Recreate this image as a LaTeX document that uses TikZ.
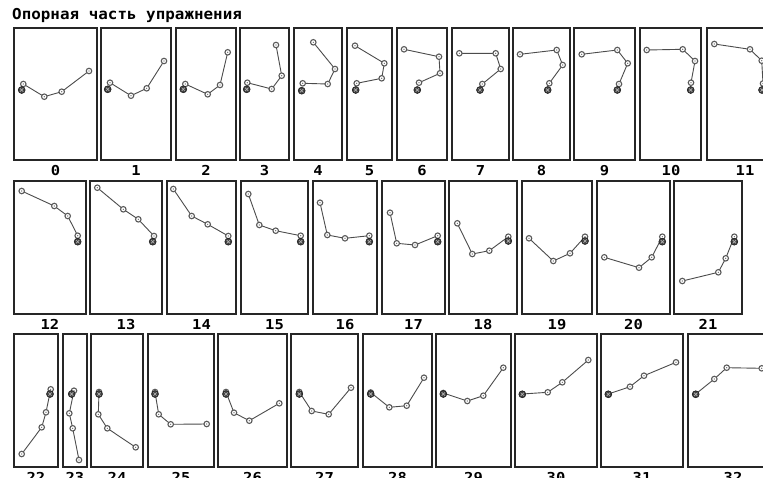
\documentclass[tikz,border=0pt]{standalone}
\usepackage{fontspec}
\newfontfamily\pixfont{DejaVu Sans Mono}
\newcommand{\stickfig}[6]{%
  \coordinate (#1d) at (#2);
  \coordinate (#1a) at (#3);
  \coordinate (#1b) at (#4);
  \coordinate (#1c) at (#5);
  \coordinate (#1e) at (#6);
  \draw[limb] (#1a) -- (#1b) -- (#1c) -- (#1e);
  \node[joint] (#1ja) at (#1a) {};
  \node[joint] (#1jb) at (#1b) {};
  \node[joint] (#1jc) at (#1c) {};
  \node[joint] (#1je) at (#1e) {};
  \node[basept] (#1base) at (#1d) {};
}
\newcommand{\panel}[6]{%
  \draw[frm] (#2,#4) rectangle (#3,#5);
  \node[lbl] (lab#1) at (#6,#5+10.5) {#1};
}
\begin{document}
\begin{tikzpicture}[x=1pt,y=-1pt,
  frm/.style={draw=black!85, line width=1.4pt},
  limb/.style={draw=black!70, line width=0.9pt},
  joint/.style={circle, draw=black!65, fill=white, line width=1.1pt, inner sep=0pt, minimum size=5.5pt,
    path picture={\fill[black!70] (path picture bounding box.center) circle (0.6pt);}},
  basept/.style={circle, fill=black!75, draw=black!90, line width=0.5pt, inner sep=0pt, minimum size=7pt,
    path picture={\draw[white!70!black, line width=0.7pt]
      ([shift={(-1.6pt,-1.6pt)}]path picture bounding box.center) -- ([shift={(1.6pt,1.6pt)}]path picture bounding box.center)
      ([shift={(-1.6pt,1.6pt)}]path picture bounding box.center) -- ([shift={(1.6pt,-1.6pt)}]path picture bounding box.center);}},
  lbl/.style={font=\pixfont\bfseries\fontsize{13.7}{14}\selectfont, xscale=1.13, inner sep=0pt},
  ttl/.style={font=\pixfont\bfseries\fontsize{15}{16}\selectfont, xscale=1.06, inner sep=0pt, anchor=base west}
]
\clip (0,0) rectangle (763,477);
\fill[white] (0,0) rectangle (763,477);

\node[ttl] (title) at (12,19) {Опорная часть упражнения};

% row 1 frames
\panel{0}{14}{97}{28}{160}{55.5}
\panel{1}{101}{171}{28}{160}{136}
\panel{2}{176}{236}{28}{160}{206}
\panel{3}{240}{289}{28}{160}{264.5}
\panel{4}{294}{342}{28}{160}{318}
\panel{5}{347}{392}{28}{160}{369.5}
\panel{6}{397}{447}{28}{160}{422}
\panel{7}{452}{509}{28}{160}{480.5}
\panel{8}{513}{570}{28}{160}{541.5}
\panel{9}{574}{635}{28}{160}{604.5}
\panel{10}{640}{701}{28}{160}{671}
\panel{11}{707}{783}{28}{160}{745}
% row 2 frames
\panel{12}{14}{86}{181}{314}{50}
\panel{13}{90}{162}{181}{314}{126}
\panel{14}{167}{236}{181}{314}{201.5}
\panel{15}{241}{308}{181}{314}{274.5}
\panel{16}{313}{377}{181}{314}{345}
\panel{17}{382}{445}{181}{314}{413.5}
\panel{18}{449}{517}{181}{314}{483}
\panel{19}{522}{592}{181}{314}{557}
\panel{20}{597}{670}{181}{314}{633.5}
\panel{21}{674}{742}{181}{314}{708}
% row 3 frames
\panel{22}{14}{58}{334}{467}{36}
\panel{23}{63}{87}{334}{467}{75}
\panel{24}{91}{143}{334}{467}{117}
\panel{25}{148}{214}{334}{467}{181}
\panel{26}{218}{287}{334}{467}{252.5}
\panel{27}{291}{358}{334}{467}{324.5}
\panel{28}{363}{432}{334}{467}{397.5}
\panel{29}{436}{511}{334}{467}{473.5}
\panel{30}{515}{597}{334}{467}{556}
\panel{31}{601}{683}{334}{467}{642}
\panel{32}{688}{778}{334}{467}{733}

% figures row 1
\stickfig{s0}{21.7,90}{23.3,84}{44.3,96.7}{61.7,91.7}{89,71}
\stickfig{s1}{107.7,89.3}{110,82.7}{131,95.7}{146.7,88.3}{164,61}
\stickfig{s2}{183.3,89.3}{185.3,84}{207.7,94.3}{220,85}{227.7,52.3}
\stickfig{s3}{246.7,89.3}{247.3,82.7}{271.7,89}{281.7,75.7}{276,45}
\stickfig{s4}{301.7,90.7}{302.7,83.3}{327.7,84}{335,69}{313.3,42.3}
\stickfig{s5}{355.7,90}{356.7,83.3}{381.7,78.3}{384.3,63.3}{355,45.7}
\stickfig{s6}{417.3,90}{419,82.7}{440,73.3}{439,56.7}{404,49.3}
\stickfig{s7}{480,90}{482.3,84}{500.7,69}{495.7,53.3}{459.3,53.3}
\stickfig{s8}{547.7,90}{549.3,83.3}{562.7,65}{556.7,50}{520,54.3}
\stickfig{s9}{617.3,90}{619,84}{627.7,63.3}{617.3,50}{581.7,54.3}
\stickfig{s10}{690.7,90}{691,82.7}{695,61}{682.7,49.3}{646.7,50}
\stickfig{s11}{762,90}{763,83.5}{761.7,60.7}{750,49.3}{714.3,44}
% figures row 2
\stickfig{s12}{77.7,241.7}{77.7,235.7}{67.7,216}{54.3,206}{21.7,191}
\stickfig{s13}{152.7,241.7}{154,236}{138.3,219.3}{123.3,209.3}{97.3,187.7}
\stickfig{s14}{228.3,241.7}{228.3,236}{207.7,224.3}{191.7,216}{173.3,189}
\stickfig{s15}{300.7,241.7}{300.7,235.7}{275.7,230.7}{259.3,225}{248.3,194}
\stickfig{s16}{369.3,241.7}{369.3,235.7}{345,238.3}{327.3,235}{320,202.7}
\stickfig{s17}{437.7,241.7}{437.7,235.7}{415,245}{396.7,243.3}{390,212.7}
\stickfig{s18}{508.3,241}{508.3,236.7}{489.3,250.7}{472.3,254}{457.3,223.3}
\stickfig{s19}{585,241}{585,236.7}{570,253.3}{553.3,261}{529,238.3}
\stickfig{s20}{662.3,241.7}{662.3,236.7}{651.7,257.3}{639,267.7}{604.3,257.3}
\stickfig{s21}{734.3,241.7}{734.3,236.7}{725.7,258.3}{718.3,272.3}{682.3,281}
% figures row 3
\stickfig{s22}{50,394}{50.7,389.3}{46,412.3}{41.7,427.3}{21.7,454}
\stickfig{s23}{71.7,394}{74,390.7}{69.3,413.3}{72.7,428.3}{79,460}
\stickfig{s24}{99,394}{99,392}{98.3,414.3}{107.3,428.3}{135.7,447.3}
\stickfig{s25}{155,394}{155,392}{158.7,414.3}{170.7,424.3}{206.7,424}
\stickfig{s26}{226,394}{226,392}{234,412.7}{249.3,420.7}{279.3,403.3}
\stickfig{s27}{299.3,394}{299.3,392}{311.7,411}{328.7,414.3}{351,387.7}
\stickfig{s28}{370.7,394}{370.7,392.5}{389.3,407.3}{406.7,405.7}{424,377.7}
\stickfig{s29}{443.3,394}{443.3,393}{467.3,401}{483.3,395.7}{503.3,367.7}
\stickfig{s30}{522.3,394.3}{522.3,394}{547.7,392.3}{562.3,382.3}{588.3,360}
\stickfig{s31}{608.3,394.3}{608.3,394}{630,386.7}{644,375.7}{676,362.3}
\stickfig{s32}{695.7,394.3}{695.7,394}{714.3,379}{726.7,367.7}{761.7,368.3}
\end{tikzpicture}
\end{document}
